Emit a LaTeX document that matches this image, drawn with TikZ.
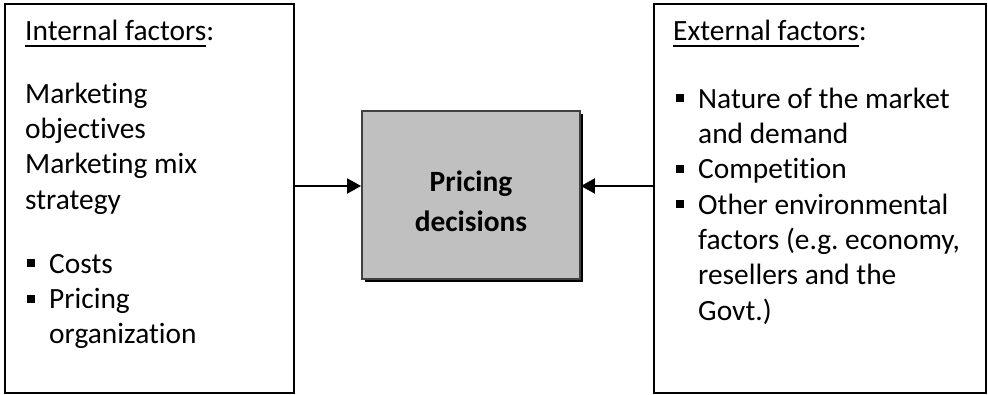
\documentclass[tikz,border=0pt]{standalone}
\usepackage{fontspec}
\setmainfont{Carlito}[Ligatures=NoCommon]
\usetikzlibrary{arrows.meta,shadows}
\frenchspacing
\definecolor{boxgray}{HTML}{C0C0C0}
\definecolor{edgegray}{HTML}{404040}
\newcommand\bsq{\rule[6pt]{8pt}{8pt}}
\newcommand\ulin[1]{\setbox0\hbox{#1}\rlap{\rule[-6.5pt]{\wd0}{1.8pt}}\box0}
\newcommand\itm{\leavevmode\llap{\bsq\hspace{14.5pt}}}
\newcommand\fst{\rule{0pt}{25pt}}
\begin{document}
\begin{tikzpicture}[x=1pt,y=-1pt,
  frame/.style={draw, line width=1.7pt, inner sep=0pt, anchor=north west},
  txt/.style={inner sep=0pt, anchor=north west, align=left,
    font=\fontsize{29.4}{35.3}\selectfont},
  decbox/.style={draw=edgegray, fill=boxgray, line width=1.8pt, inner sep=0pt,
    align=center, font=\fontsize{29.4}{40}\selectfont\bfseries,
    general shadow={fill=black, shadow xshift=3pt, shadow yshift=-3pt}},
  arr/.style={line width=2pt, -{Triangle[length=14pt,width=15pt]}}]
\useasboundingbox (0,0) rectangle (988,394);
% frames
\node[frame, minimum width=289pt, minimum height=389pt] (lbox) at (4,3) {};
\node[frame, minimum width=332pt, minimum height=389pt] (rbox) at (653,3) {};
% central box
\node[decbox, minimum width=218pt, minimum height=168pt] (pd) at (471,195)
  {\rule{0pt}{34pt}Pricing\\decisions};
% left texts
\node[txt] (ltitle) at (25,15) {\fst\ulin{Internal factors}:};
\node[txt] (lpara) at (25,78) {\fst Marketing\\objectives\\Marketing mix\\strategy};
\node[txt] (llist) at (49,248) {\fst\itm Costs\\\itm Pricing\\organization};
% right texts
\node[txt] (rtitle) at (673,15) {\fst\ulin{External factors}:};
\node[txt] (rlist) at (698,83) {\fst\itm Nature of the market\\and demand\\\itm Competition\\\itm Other environmental\\factors (e.g. economy,\\resellers and the\\Govt.)};
% connectors
\coordinate (ay) at (0,186);
\draw[arr] (lbox.east |- ay) -- (pd.west |- ay);
\draw[arr] (rbox.west |- ay) -- (pd.east |- ay);
\end{tikzpicture}
\end{document}
